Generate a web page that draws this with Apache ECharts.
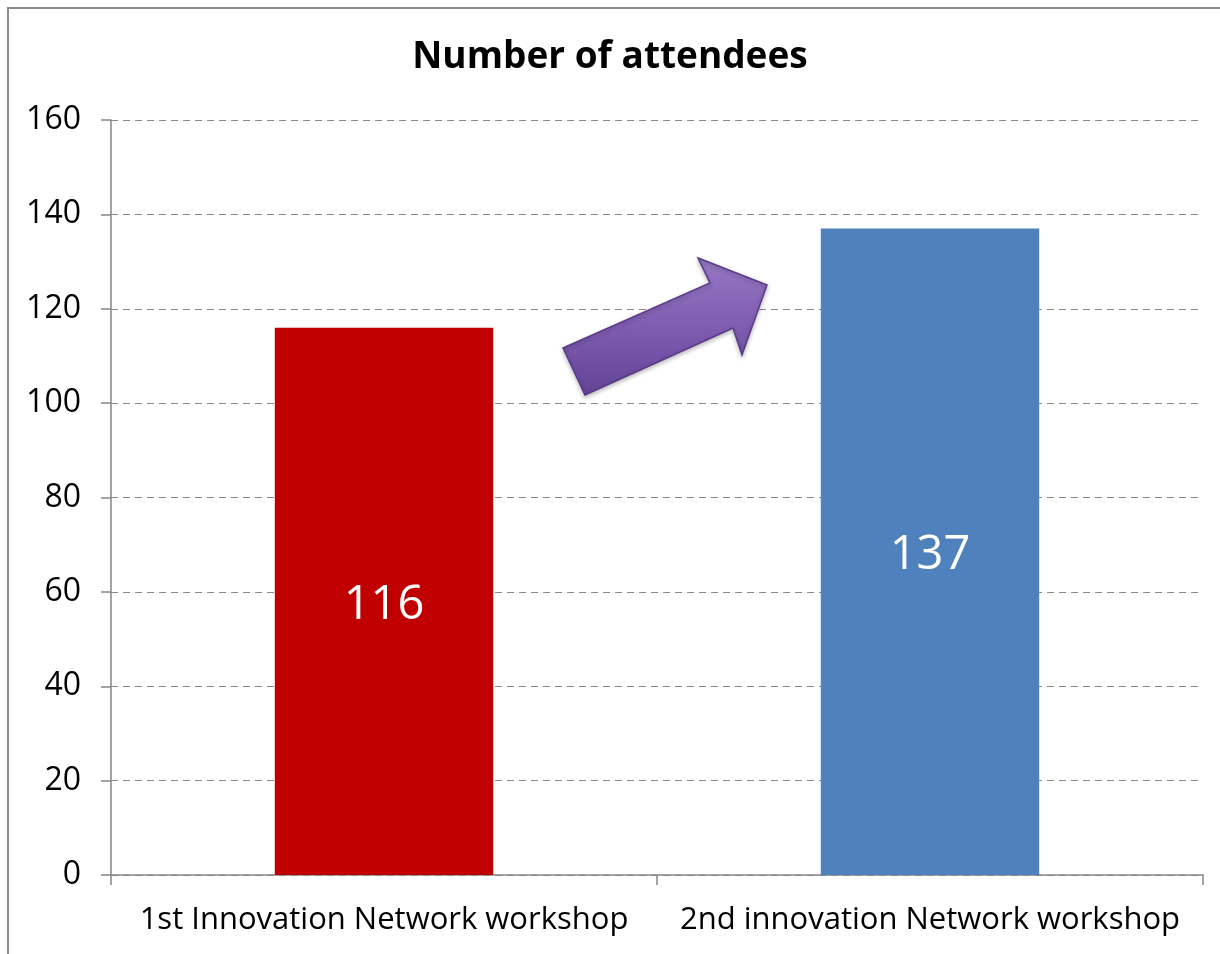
<!DOCTYPE html>
<html>
<head>
<meta charset="utf-8">
<script src="https://cdn.jsdelivr.net/npm/echarts@6/dist/echarts.min.js"></script>
<style>
  html, body { margin: 0; padding: 0; background: #fff; }
  #chart { width: 1220px; height: 954px; }
</style>
</head>
<body>
<div id="chart"></div>
<script>
// chart data
var categories = ['1st Innovation Network workshop', '2nd innovation Network workshop']
var attendees = [116, 137]
var barColors = ['#C00000', '#4F81BD']
var yTicks = { min: 0, max: 160, interval: 20 }

var font = 'Open Sans'

var myChart = echarts.init(document.getElementById('chart'))

var option = {
  backgroundColor: '#fff',
  animation: false,
  title: {
    text: 'Number of attendees',
    left: 'center',
    top: 34,
    textStyle: {
      color: '#000',
      fontSize: 37,
      fontWeight: 'bold',
      fontFamily: font
    }
  },
  grid: {
    left: 111,
    right: 17,
    top: 120,
    bottom: 79
  },
  xAxis: {
    type: 'category',
    data: categories,
    axisLine: { lineStyle: { color: '#868686', width: 1.5 } },
    axisTick: { show: true, alignWithLabel: false, length: 10, lineStyle: { color: '#868686', width: 1.5 } },
    axisLabel: {
      color: '#000',
      fontSize: 31,
      fontFamily: font,
      margin: 30,
      interval: 0
    }
  },
  yAxis: {
    type: 'value',
    min: yTicks.min,
    max: yTicks.max,
    interval: yTicks.interval,
    axisLine: { show: true, lineStyle: { color: '#868686', width: 1.5 } },
    axisTick: { show: true, length: 10, lineStyle: { color: '#868686', width: 1.5 } },
    axisLabel: {
      color: '#000',
      fontSize: 32,
      fontFamily: font,
      margin: 30
    },
    splitLine: {
      show: true,
      lineStyle: { color: '#8a8a8a', type: [7, 5], width: 1.2 }
    }
  },
  series: [{
    type: 'bar',
    data: attendees.map(function (v, i) {
      return { value: v, itemStyle: { color: barColors[i] } }
    }),
    barWidth: '40%',
    label: {
      show: true,
      position: 'inside',
      color: '#fff',
      fontSize: 47,
      fontFamily: font,
      offset: [0, 4]
    }
  }],
  graphic: [
    {
      // outer chart frame (only left/top edges visible in reference)
      type: 'polyline',
      shape: { points: [[8, 1000], [8, 8], [1400, 8]] },
      style: { fill: null, stroke: '#8c8c8c', lineWidth: 2 },
      silent: true,
      z: 10
    },
    {
      // the purple "increase" arrow
      type: 'polygon',
      shape: {
        points: [[563, 348], [710, 283], [698, 258], [767, 285], [742, 355], [733, 328], [585, 395]]
      },
      style: {
        fill: new echarts.graphic.LinearGradient(0, 0, 0, 1, [
          { offset: 0, color: '#9678C4' },
          { offset: 0.5, color: '#7F5DB1' },
          { offset: 1, color: '#634395' }
        ]),
        stroke: '#5A3A88',
        lineWidth: 1.5,
        shadowBlur: 4,
        shadowColor: 'rgba(0,0,0,0.25)',
        shadowOffsetY: 2
      },
      z: 20
    }
  ]
}

myChart.setOption(option)
window.addEventListener('resize', function () { myChart.resize() })
</script>
</body>
</html>
